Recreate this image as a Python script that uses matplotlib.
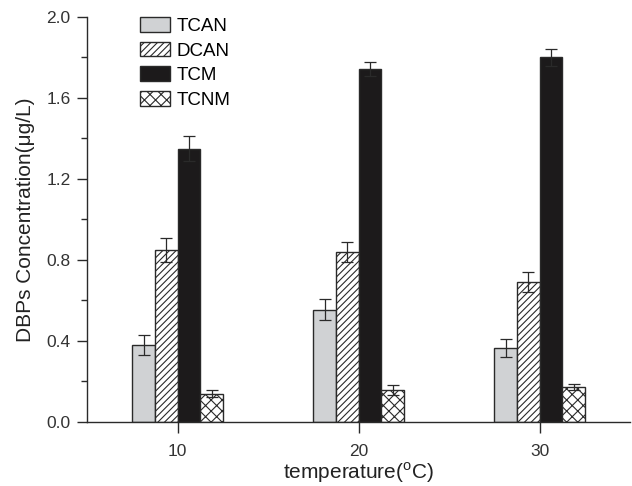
import numpy as np
import matplotlib.pyplot as plt

plt.rcParams['font.family'] = ['Liberation Sans', 'DejaVu Sans']
plt.rcParams['hatch.linewidth'] = 0.8
plt.rcParams['mathtext.fontset'] = 'custom'
plt.rcParams['mathtext.rm'] = 'Liberation Sans'

temps = [10, 20, 30]
series = ['TCAN', 'DCAN', 'TCM', 'TCNM']
values = {
    'TCAN': [0.38, 0.555, 0.365],
    'DCAN': [0.85, 0.84, 0.69],
    'TCM': [1.35, 1.745, 1.80],
    'TCNM': [0.14, 0.158, 0.172],
}
errors = {
    'TCAN': [0.05, 0.052, 0.045],
    'DCAN': [0.06, 0.05, 0.05],
    'TCM': [0.06, 0.035, 0.04],
    'TCNM': [0.018, 0.025, 0.015],
}

styles = {
    'TCAN': dict(facecolor='#d0d2d4', hatch=None),
    'DCAN': dict(facecolor='white', hatch='/////'),
    'TCM': dict(facecolor='#1c1a1b', hatch=None),
    'TCNM': dict(facecolor='white', hatch='xxx'),
}

fig = plt.figure(figsize=(6.32, 4.86), dpi=100)
ax = fig.add_axes([0.138, 0.132, 0.859, 0.833])

width = 1.25
x = np.array(temps, dtype=float)
edge = '#2a2a2a'
for i, s in enumerate(series):
    left = x - 2 * width + i * width
    ax.bar(left, values[s], width=width, align='edge', edgecolor=edge,
           linewidth=1.0, label=s, **styles[s])
    ax.errorbar(left + width / 2, values[s], yerr=errors[s], fmt='none',
                ecolor=edge, elinewidth=0.9, capsize=4, capthick=0.9)

ax.set_xlim(5, 35)
ax.set_ylim(0, 2.0)
ax.set_xticks(temps)
ax.set_yticks([0.0, 0.4, 0.8, 1.2, 1.6, 2.0])
ax.set_yticks(np.arange(0.2, 2.0, 0.4), minor=True)
ax.yaxis.set_major_formatter(plt.FormatStrFormatter('%.1f'))
for sp in ['top', 'right']:
    ax.spines[sp].set_visible(False)
for sp in ['left', 'bottom']:
    ax.spines[sp].set_linewidth(1.0)
    ax.spines[sp].set_color(edge)
ax.tick_params(axis='both', direction='out', labelsize=12.5, colors=edge,
               length=7, width=1.0, labelcolor='#333333')
ax.tick_params(axis='y', which='minor', direction='out', length=4, width=1.0, colors=edge)
ax.tick_params(axis='x', pad=8, length=8)
ax.tick_params(axis='y', pad=5)

ax.set_ylabel('DBPs Concentration(\u03bcg/L)', fontsize=15, color='#222222', labelpad=8)
ax.set_xlabel('temperature($^{\\rm o}$C)', fontsize=15, color='#222222')
ax.xaxis.set_label_coords(0.5, -0.094)

ax.legend(loc='upper left', bbox_to_anchor=(0.098, 1.0), frameon=False,
          borderpad=0, borderaxespad=0,
          fontsize=13.5, handlelength=1.6, handleheight=0.85, labelspacing=0.35,
          handletextpad=0.35)

fig.savefig('out.png', dpi=100)
